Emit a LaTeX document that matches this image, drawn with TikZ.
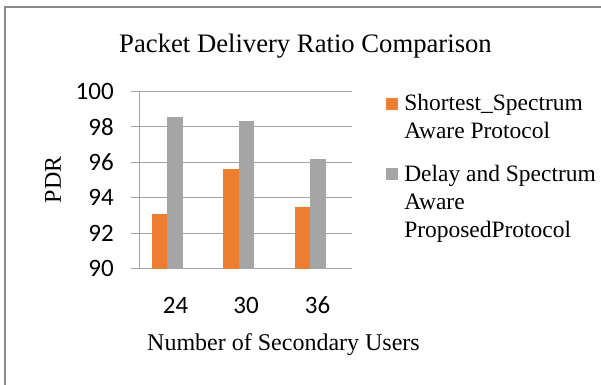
\documentclass[tikz,border=0pt]{standalone}
\usepackage{fontspec}
\setmainfont{Liberation Serif}
\newfontfamily\cuerpo{Carlito}
\usepackage{xcolor}
\usetikzlibrary{positioning}
\definecolor{naranja}{HTML}{ED7D31}
\definecolor{gris}{HTML}{A5A5A5}
\definecolor{rejilla}{HTML}{A3A3A3}
\definecolor{borde}{HTML}{8C8C8C}
\tikzset{
  marco/.style={draw=borde,line width=1.1pt},
  rej/.style={draw=rejilla,line width=1pt},
  serie1/.style={fill=naranja,draw=none},
  serie2/.style={fill=gris,draw=none},
  tick/.style={font=\cuerpo\fontsize{18.75}{22}\selectfont,inner sep=0pt},
  titulo/.style={font=\fontsize{20}{24}\selectfont,inner sep=0pt},
  ejetit/.style={font=\fontsize{18}{22}\selectfont,inner sep=0pt},
  leyenda/.style={font=\fontsize{17.6}{20.25}\selectfont,inner sep=0pt,anchor=base west}
}
\begin{document}
\begin{tikzpicture}[x=0.75pt,y=-0.75pt]
\useasboundingbox (0,0) rectangle (601,385);
\fill[white] (0,0) rectangle (601,385);
\clip (0,0) rectangle (601,385);
\draw[marco] (5,7) rectangle (620,400);
\node[titulo,anchor=base] (tit) at (305.5,53) {Packet Delivery Ratio Comparison};
% area del grafico
\begin{scope}[shift={(0,268.7)},y=13.3125pt]
\foreach \v in {90,92,...,100}{
  \draw[rej] (131,{\v-90}) -- (352,{\v-90});
  \node[tick,anchor=east] (y\v) at (114,{\v-90}) {\v};
}
\draw[rej] (139.7,0) -- (139.7,10);
\foreach \c/\a/\b in {167/93.1/98.53, 238.5/95.6/98.32, 310/93.47/96.16}{
  \fill[serie1] ({\c-15.5},0) rectangle (\c,{\a-90});
  \fill[serie2] (\c,0) rectangle ({\c+15.5},{\b-90});
}
\end{scope}
\foreach \x/\lab in {175.5/24, 246/30, 317.5/36}{
  \node[tick] (x\lab) at (\x,305) {\lab};
}
\node[ejetit,rotate=90] (pdr) at (53,180) {PDR};
\node[ejetit,anchor=base] (ejex) at (283.5,350) {Number of Secondary Users};
% leyenda
\fill[serie1] (386,98) rectangle (398,110);
\node[leyenda] (ley1) at (404,111) {\begin{tabular}[t]{@{}l@{}}Shortest\_Spectrum\\[0.6pt]Aware Protocol\end{tabular}};
\fill[serie2] (386,168) rectangle (398,180);
\node[leyenda] (ley2) at (404,182) {\begin{tabular}[t]{@{}l@{}}Delay and Spectrum\\[0.6pt]Aware\\[0.6pt]ProposedProtocol\end{tabular}};
\end{tikzpicture}
\end{document}
